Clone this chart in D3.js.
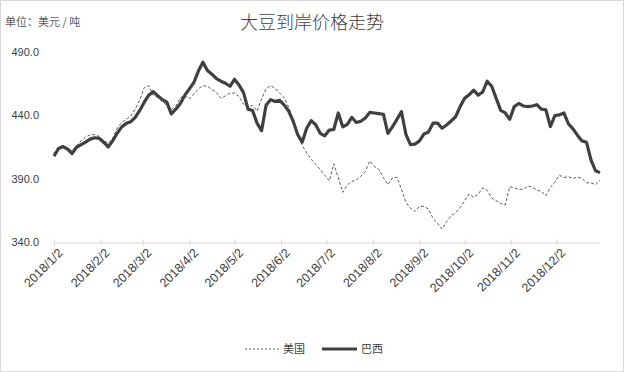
<!DOCTYPE html>
<html>
<head>
<meta charset="utf-8">
<script src="https://cdn.jsdelivr.net/npm/d3@7"></script>
<style>
  body { margin: 0; background: #fff; }
  svg { display: block; }
</style>
</head>
<body>
<svg width="624" height="372"></svg>
<script>
// every third day from 2018/1/2
var dates = [
  "1/2","1/5","1/8","1/11","1/14","1/17","1/20","1/23","1/26","1/29",
  "2/1","2/4","2/7","2/10","2/13","2/16","2/19","2/22","2/25","2/28",
  "3/3","3/6","3/9","3/12","3/15","3/18","3/21","3/24","3/27","3/30",
  "4/2","4/5","4/8","4/11","4/14","4/17","4/20","4/23","4/26","4/29",
  "5/2","5/5","5/8","5/11","5/14","5/17","5/20","5/23","5/26","5/29",
  "6/1","6/4","6/7","6/10","6/13","6/16","6/19","6/22","6/25","6/28",
  "7/1","7/4","7/7","7/10","7/13","7/16","7/19","7/22","7/25","7/28","7/31",
  "8/3","8/6","8/9","8/12","8/15","8/18","8/21","8/24","8/27","8/30",
  "9/2","9/5","9/8","9/11","9/14","9/17","9/20","9/23","9/26","9/29",
  "10/2","10/5","10/8","10/11","10/14","10/17","10/20","10/23","10/26","10/29",
  "11/1","11/4","11/7","11/10","11/13","11/16","11/19","11/22","11/25","11/28",
  "12/1","12/4","12/7","12/10","12/13","12/16","12/19","12/22","12/25","12/28","12/31"
];

var usPrices = [
  410, 415, 416.5, 414.5, 412, 416.5, 420, 423, 424.8, 425,
  423.5, 420.5, 418, 422, 430, 434.5, 437, 439.5, 445, 452,
  462, 463.5, 456, 454, 451, 448, 445, 447.5, 454, 455.5,
  453, 457, 461, 463.5, 463, 460.5, 458, 453.5, 455.5, 457.6,
  457.6, 455, 449, 446.5, 448, 443.5, 453, 461, 463.5, 461.5,
  457.5, 454, 446.5, 437, 424, 416.5, 410.5, 405.5, 401.5, 397.5,
  393, 388.5, 402, 391, 379.5, 385.3, 388, 389.3, 392, 396, 404.3,
  399.8, 397.6, 391, 385.5, 391, 391.3, 382, 371.5, 367, 364.5,
  368.5, 368.5, 366.3, 359, 355, 350.5, 356.5, 361, 363.5, 367.5,
  373, 378.3, 375.6, 378, 383, 381, 375, 373, 370.7, 369.5,
  384, 383, 381.8, 382, 384.5, 383.5, 381.2, 380.3, 376.8, 383.5,
  387.5, 393, 391.2, 391.8, 390.4, 391.6, 390.5, 387, 387, 385.5, 389
];

var brPrices = [
  408, 414, 415.5, 413.5, 410, 415, 417, 419, 421.4, 422.5,
  422, 419, 415.2, 420, 426, 431, 433.8, 435, 438.5, 444,
  450.5, 456, 458.8, 455.5, 452.5, 450.5, 441.3, 445, 449.5, 456,
  461, 466, 475, 482, 475.5, 472.5, 469, 467, 465.4, 463,
  468.5, 464, 458, 445, 444, 434, 428, 448, 452.5, 451,
  452, 448.4, 443.5, 435.5, 425, 419, 430, 436, 432.7, 426,
  424, 428.5, 429, 442, 431, 433, 438.5, 434.5, 435.5, 438, 442.5,
  442, 441.5, 441, 426, 431, 437, 443, 425, 417, 417.5,
  420, 425.5, 427, 434, 434, 430, 432.5, 435.7, 439, 447,
  453.5, 456.3, 460, 456, 458.5, 467, 463, 453.5, 444, 442,
  437, 447, 449.5, 447.5, 447, 447.5, 448.5, 445, 444.5, 431.3,
  440, 440.5, 442, 433.5, 429.5, 424.5, 420, 419, 405, 396.5, 395
];

var yTicks = [340, 390, 440, 490];
var xTicks = ["1/2","2/2","3/2","4/2","5/2","6/2","7/2","8/2","9/2","10/2","11/2","12/2"];

var seriesNames = ["美国", "巴西"];

function toDate(s) {
    var p = s.split("/");
    return new Date(2018, +p[0] - 1, +p[1]);
}

var svg = d3.select("svg");
var font = "'Liberation Sans', Arial, sans-serif";
var cjk = "'Noto Sans CJK SC', sans-serif";

// frame
svg.append("rect")
    .attr("x", 0.5).attr("y", 0.5)
    .attr("width", 623).attr("height", 371)
    .attr("fill", "#fff")
    .attr("stroke", "#d9d9d9");

var x = d3.scaleTime()
    .domain([toDate("1/2"), toDate("12/31")])
    .range([54, 600]);

var y = d3.scaleLinear()
    .domain([340, 490])
    .range([242.5, 52]);

// title and unit
svg.append("text")
    .attr("x", 312).attr("y", 29)
    .attr("text-anchor", "middle")
    .attr("font-family", cjk)
    .attr("font-size", 18)
    .attr("font-weight", 300)
    .attr("fill", "#404040")
    .text("大豆到岸价格走势");

svg.append("text")
    .attr("x", 5).attr("y", 26)
    .attr("font-family", cjk)
    .attr("font-size", 11)
    .attr("fill", "#595959")
    .text("单位：美元 / 吨");

// y labels
svg.append("g")
    .selectAll("text")
    .data(yTicks)
    .enter().append("text")
    .attr("x", 39)
    .attr("y", function(d) { return y(d); })
    .attr("dy", "0.35em")
    .attr("text-anchor", "end")
    .attr("font-family", font)
    .attr("font-size", 11)
    .attr("fill", "#404040")
    .text(function(d) { return d3.format(".1f")(d); });

// x axis
var xAxis = d3.axisBottom(x)
    .tickValues(xTicks.map(toDate))
    .tickSizeInner(3)
    .tickSizeOuter(0)
    .tickFormat(d3.timeFormat("2018/%-m/%-d"));

var gx = svg.append("g")
    .attr("transform", "translate(0," + y(340) + ")")
    .call(xAxis);

gx.select(".domain").attr("stroke", "#d9d9d9").attr("d", "M53,0.5H600");
gx.selectAll(".tick line").attr("stroke", "#d9d9d9").attr("y1", -3);
gx.selectAll(".tick text")
    .attr("font-family", font)
    .attr("font-size", 12.5)
    .attr("fill", "#404040")
    .attr("text-anchor", "end")
    .attr("transform", "translate(3,5) rotate(-45)")
    .attr("dy", "0.7em")
    .attr("y", 0);

// lines
var line = function(values) {
    return d3.line()
        .x(function(d, i) { return x(toDate(dates[i])); })
        .y(function(d) { return y(d); })(values);
};

svg.append("path")
    .attr("d", line(usPrices))
    .attr("fill", "none")
    .attr("stroke", "#595959")
    .attr("stroke-width", 1)
    .attr("stroke-dasharray", "3,2");

svg.append("path")
    .attr("d", line(brPrices))
    .attr("fill", "none")
    .attr("stroke", "#404040")
    .attr("stroke-width", 3.2)
    .attr("stroke-linejoin", "round");

// legend
var legend = svg.append("g").attr("transform", "translate(0,349)");

legend.append("line")
    .attr("x1", 245).attr("x2", 279)
    .attr("stroke", "#595959")
    .attr("stroke-width", 1.2)
    .attr("stroke-dasharray", "2,2");
legend.append("text")
    .attr("x", 283).attr("dy", "0.35em")
    .attr("font-family", cjk).attr("font-size", 11)
    .attr("fill", "#404040")
    .text(seriesNames[0]);

legend.append("line")
    .attr("x1", 322).attr("x2", 357)
    .attr("stroke", "#404040")
    .attr("stroke-width", 3);
legend.append("text")
    .attr("x", 361).attr("dy", "0.35em")
    .attr("font-family", cjk).attr("font-size", 11)
    .attr("fill", "#404040")
    .text(seriesNames[1]);
</script>
</body>
</html>
